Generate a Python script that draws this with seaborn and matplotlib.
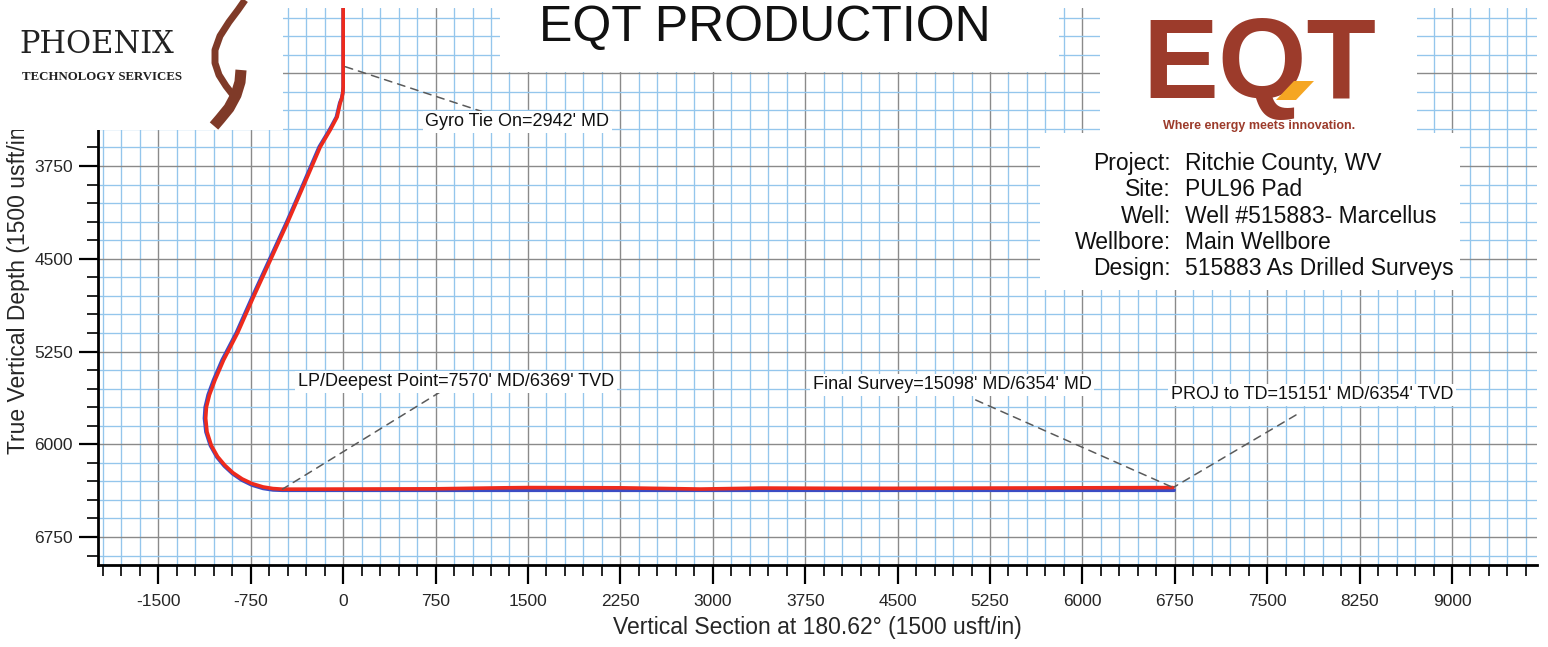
import matplotlib
matplotlib.use("Agg")
import matplotlib.pyplot as plt
import matplotlib.patches as mpatches
import matplotlib.lines as mlines
import seaborn as sns
import numpy as np

W, H = 1548, 647

# actual (as drilled) trajectory: vertical section / TVD, usft
vs_actual = [0, 0, 0, -3, -10, -24, -49, -105, -186, -291, -372, -453, -590, -728, -857,
             -970, -1040, -1085, -1110, -1116, -1105, -1070, -1019, -960, -895, -820,
             -740, -650, -570, -493,
             0, 750, 1300, 1500, 2250, 2900, 3400, 4000, 4500, 5250, 6000, 6735]
tvd_actual = [2460, 2942, 3111, 3160, 3200, 3241, 3354, 3459, 3596, 3839, 4025, 4211, 4510, 4809, 5100,
              5318, 5480, 5600, 5700, 5790, 5900, 6010, 6100, 6170, 6230, 6280,
              6318, 6345, 6358, 6363,
              6362, 6360, 6352, 6350, 6352, 6362, 6354, 6356, 6356, 6354, 6352, 6350]

# plan trajectory
vs_plan = [0, 0, 0, -4, -12, -28, -55, -112, -195, -300, -380, -462, -600, -738, -868,
           -982, -1052, -1096, -1120, -1126, -1114, -1078, -1025, -965, -898, -822,
           -740, -650, -570, -493,
           0, 1500, 3000, 4500, 6000, 6745]
tvd_plan = [2460, 2942, 3111, 3160, 3200, 3241, 3354, 3459, 3596, 3839, 4025, 4211, 4510, 4809, 5100,
            5318, 5480, 5600, 5700, 5790, 5900, 6010, 6104, 6176, 6238, 6290,
            6330, 6357, 6369, 6372,
            6372, 6372, 6372, 6372, 6372, 6372]

x_major = np.arange(-1500, 9001, 750)
x_minor = np.arange(-1950, 9601, 150)
y_major = [3000, 3750, 4500, 5250, 6000, 6750]
y_labels = ["", "3750", "4500", "5250", "6000", "6750"]  # 3000 sits under the logo
y_minor = np.arange(2550, 6901, 150)

info_keys = ["Project:", "Site:", "Well:", "Wellbore:", "Design:"]
info_vals = ["Ritchie County, WV", "PUL96 Pad", "Well #515883- Marcellus",
             "Main Wellbore", "515883 As Drilled Surveys"]

sns.set_theme(style="white")
plt.rcParams["font.family"] = ["Liberation Sans", "DejaVu Sans"]
plt.rcParams["axes.unicode_minus"] = False


def fx(px):
    return px / W


def fy(py):
    return 1 - py / H


fig = plt.figure(figsize=(W / 100, H / 100), dpi=100)
fig.patch.set_facecolor("white")
ax = fig.add_axes([fx(98), fy(565), (1537 - 98) / W, (565 - 8) / H])

sns.lineplot(x=vs_plan, y=tvd_plan, sort=False, estimator=None, color="#3b4cc4", lw=2.6, ax=ax)
sns.lineplot(x=vs_actual, y=tvd_actual, sort=False, estimator=None, color="#ee2a1c", lw=2.6, ax=ax)

ax.set_xlim(-1990, 9690)
ax.set_ylim(6976, 2473)
ax.set_xticks(x_major)
ax.set_xticks(x_minor, minor=True)
ax.set_yticks(y_major, labels=y_labels)
ax.set_yticks(y_minor, minor=True)
ax.grid(which="minor", color="#94c6ec", lw=0.95)
ax.grid(which="major", color="#8a8a8a", lw=1.0)
ax.set_axisbelow(True)
ax.tick_params(which="major", length=14, width=1.6, direction="out", color="black",
               labelsize=12.5, pad=4, bottom=True, left=True)
ax.tick_params(which="minor", length=8, width=1.2, direction="out", color="black",
               bottom=True, left=True)
ax.tick_params(axis="x", which="major", pad=7)
for s in ["top", "right"]:
    ax.spines[s].set_visible(False)
for s in ["left", "bottom"]:
    ax.spines[s].set_color("black")
    ax.spines[s].set_linewidth(2)

ax.set_xlabel("Vertical Section at 180.62° (1500 usft/in)", fontsize=16.5)
ax.set_ylabel("True Vertical Depth (1500 usft/in)", fontsize=16.5)
ax.xaxis.set_label_coords(0.5, -0.092)
ax.yaxis.set_label_coords(-0.047, 0.5)

# annotations with dashed leader lines
notes = [
    ("Gyro Tie On=2942' MD", (0, 2942), (1137, 3313), (666, 3394)),
    ("LP/Deepest Point=7570' MD/6369' TVD", (-493, 6363), (788, 5577), (-366, 5496)),
    ("Final Survey=15098' MD/6354' MD", (6725, 6345), (5134, 5642), (3810, 5520)),
    ("PROJ to TD=15151' MD/6354' TVD", (6745, 6345), (7734, 5763), (6718, 5601)),
]
for txt, pt, end, tpos in notes:
    ax.annotate("", xy=pt, xytext=end,
                arrowprops=dict(arrowstyle="-", ls=(0, (5, 4)), color="#5a5a5a", lw=1.1,
                                shrinkA=0, shrinkB=0))
    ax.text(tpos[0], tpos[1], txt, fontsize=13, ha="left", va="center", color="#111111",
            bbox=dict(facecolor="white", edgecolor="none", pad=2))

# white header areas covering the grid
for x0, y0, x1, y1 in [(0, 0, 283, 130), (500, 0, 1059, 72), (1100, 0, 1417, 133),
                       (1040, 133, 1460, 290)]:
    fig.add_artist(mpatches.Rectangle((fx(x0), fy(y1)), fx(x1 - x0), (y1 - y0) / H,
                                      transform=fig.transFigure, facecolor="white",
                                      edgecolor="none", zorder=10))

fig.text(fx(765), fy(41), "EQT PRODUCTION", fontsize=36, ha="center", va="baseline",
         color="#111111", zorder=11)

# Phoenix logo
fig.text(fx(19), fy(53), "PHOENIX", family="DejaVu Serif", fontsize=22, ha="left",
         va="baseline", color="#222222", zorder=11)
fig.text(fx(22), fy(80), "TECHNOLOGY SERVICES", family="Liberation Serif", fontsize=9.3,
         weight="bold", ha="left", va="baseline", color="#222222", zorder=11)
brown = "#7f3a28"
fig.add_artist(mlines.Line2D([fx(245), fx(238), fx(229), fx(220), fx(215), fx(215),
                              fx(219), fx(226), fx(233)],
                             [fy(0), fy(10), fy(22), fy(36), fy(50), fy(63),
                              fy(75), fy(86), fy(95)],
                             transform=fig.transFigure, color=brown, lw=5,
                             solid_capstyle="butt", zorder=11))
fig.add_artist(mlines.Line2D([fx(241), fx(240), fx(236), fx(229), fx(220), fx(214)],
                             [fy(70), fy(82), fy(95), fy(108), fy(119), fy(126)],
                             transform=fig.transFigure, color=brown, lw=8,
                             solid_capstyle="butt", zorder=11))

# EQT logo
eqt_col = "#9c3b2b"
fig.text(fx(1259), fy(98), "EQT", fontsize=82, weight="bold", ha="center", va="baseline",
         color=eqt_col, zorder=11)
fig.add_artist(mpatches.Polygon([(fx(1276), fy(100)), (fx(1296), fy(100)),
                                 (fx(1314), fy(81)), (fx(1294), fy(81))],
                                closed=True, transform=fig.transFigure,
                                facecolor="#f5a623", edgecolor="none", zorder=12))
fig.text(fx(1259), fy(129), "Where energy meets innovation.", fontsize=9, weight="bold",
         ha="center", va="baseline", color=eqt_col, zorder=11)

# well info block
for i, (k, v) in enumerate(zip(info_keys, info_vals)):
    yb = 170 + i * 26.3
    fig.text(fx(1171), fy(yb), k, fontsize=16.5, ha="right", va="baseline",
             color="#111111", zorder=11)
    fig.text(fx(1185), fy(yb), v, fontsize=16.5, ha="left", va="baseline",
             color="#111111", zorder=11)

fig.savefig("out.png", dpi=100)
